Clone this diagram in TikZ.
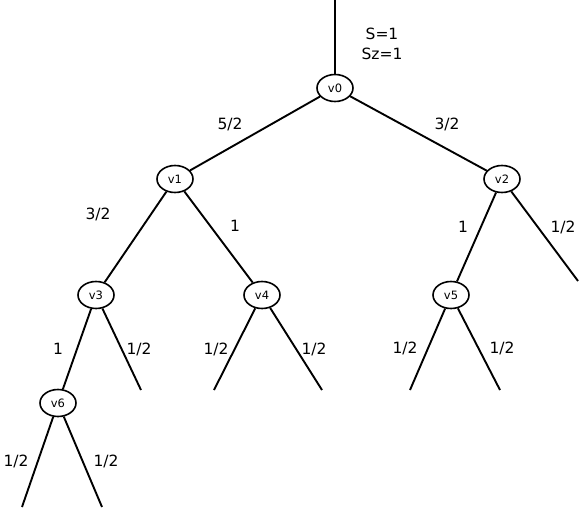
\documentclass[tikz,border=0pt]{standalone}
\usepackage{fontspec}
\setmainfont{DejaVu Sans}
\usetikzlibrary{shapes.geometric}
\begin{document}
\begin{tikzpicture}[x=1pt,y=-1pt,
  vert/.style={ellipse,draw,line width=1.6pt,minimum width=36pt,minimum height=27pt,inner sep=0pt,font=\fontsize{11.5}{13}\selectfont},
  edge/.style={line width=1.9pt},
  lbl/.style={font=\fontsize{15.5}{17}\selectfont}]
\useasboundingbox (0,0) rectangle (586,514);
\node[vert] (v0) at (335,88) {v0};
\node[vert] (v1) at (175,179) {v1};
\node[vert] (v2) at (502,179) {v2};
\node[vert] (v3) at (96,295) {v3};
\node[vert] (v4) at (262,295) {v4};
\node[vert] (v5) at (451,295) {v5};
\node[vert] (v6) at (58,403) {v6};
\coordinate (top) at (335,0);
\coordinate (l2r) at (578,281);
\coordinate (l3r) at (141,390);
\coordinate (l4l) at (214,390);
\coordinate (l4r) at (322,390);
\coordinate (l5l) at (410,390);
\coordinate (l5r) at (500,390);
\coordinate (l6l) at (22,507);
\coordinate (l6r) at (102,507);
\draw[edge] (top) -- (v0);
\draw[edge] (v0) -- (v1);
\draw[edge] (v0) -- (v2);
\draw[edge] (v1) -- (v3);
\draw[edge] (v1) -- (v4);
\draw[edge] (v2) -- (v5);
\draw[edge] (v2) -- (l2r);
\draw[edge] (v3) -- (v6);
\draw[edge] (v3) -- (l3r);
\draw[edge] (v4) -- (l4l);
\draw[edge] (v4) -- (l4r);
\draw[edge] (v5) -- (l5l);
\draw[edge] (v5) -- (l5r);
\draw[edge] (v6) -- (l6l);
\draw[edge] (v6) -- (l6r);
\node[lbl] (s) at (382,34) {S=1};
\node[lbl] (sz) at (382,54) {Sz=1};
\node[lbl] (e01) at (230,124) {5/2};
\node[lbl] (e02) at (447,124) {3/2};
\node[lbl] (e13) at (98,214) {3/2};
\node[lbl] (e14) at (235,226) {1};
\node[lbl] (e25) at (463,227) {1};
\node[lbl] (e2r) at (563,227) {1/2};
\node[lbl] (e36) at (58,349) {1};
\node[lbl] (e3r) at (139,349) {1/2};
\node[lbl] (e4l) at (216,349) {1/2};
\node[lbl] (e4r) at (314,349) {1/2};
\node[lbl] (e5l) at (405,348) {1/2};
\node[lbl] (e5r) at (502,348) {1/2};
\node[lbl] (e6l) at (16,461) {1/2};
\node[lbl] (e6r) at (106,461) {1/2};
\end{tikzpicture}
\end{document}
